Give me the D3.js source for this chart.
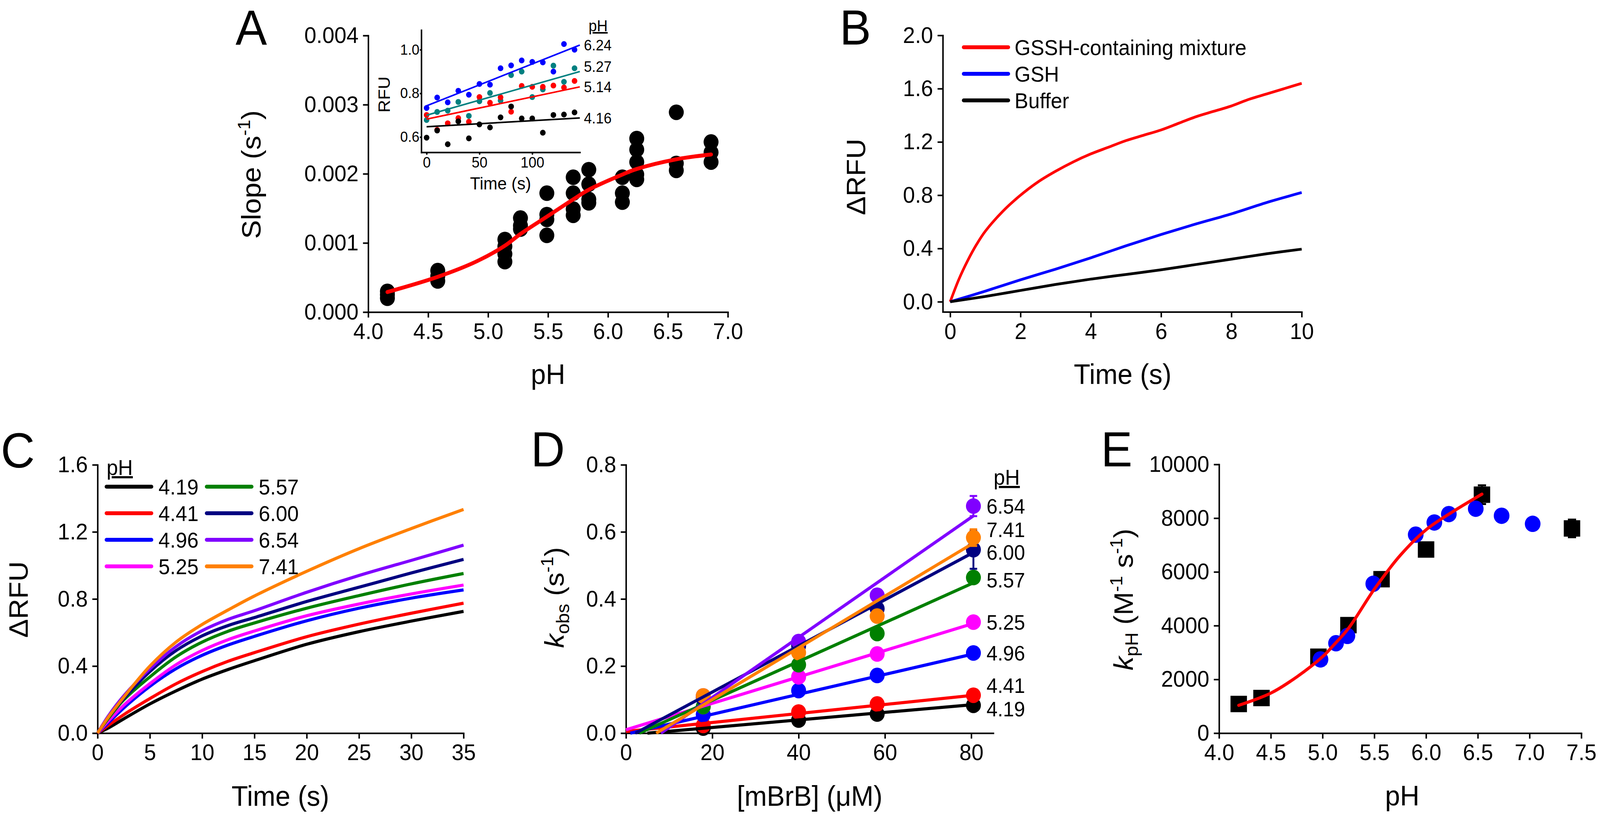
<!DOCTYPE html>
<html>
<head>
<meta charset="utf-8">
<script src="https://cdn.jsdelivr.net/npm/d3@7/dist/d3.min.js"></script>
<style>
  html, body { margin: 0; padding: 0; width: 100%; height: 100%; overflow: hidden; background: #fff; }
  #canvas { width: 100vw; height: 100vh; }
  svg { display: block; }
</style>
</head>
<body>
<div id="canvas"></div>
<script>
/* global d3 */

// ---- panel A: slope vs pH
var slopePH = [4.16, 4.58, 5.14, 5.27, 5.49, 5.71, 5.84, 6.12, 6.24, 6.57, 6.86]
var slopeVals = [
  [0.00030, 0.00025, 0.00020],
  [0.00060, 0.00052, 0.00045],
  [0.00105, 0.00095, 0.00084, 0.00073],
  [0.00136, 0.00125, 0.00120],
  [0.00172, 0.00141, 0.00134, 0.00111],
  [0.00195, 0.00172, 0.00149, 0.00140],
  [0.00206, 0.00185, 0.00163, 0.00158],
  [0.00195, 0.00172, 0.00159],
  [0.00251, 0.00235, 0.00217, 0.00199, 0.00192],
  [0.00289, 0.00215, 0.00205],
  [0.00246, 0.00231, 0.00217]
]
var slopeFitPH = [4.16, 4.58, 4.9, 5.14, 5.27, 5.49, 5.71, 5.84, 6.12, 6.24, 6.57, 6.86]
var slopeFit = [0.00029, 0.00051, 0.00073, 0.00096, 0.00113, 0.00138, 0.00163, 0.00177, 0.00199, 0.00207, 0.00221, 0.00228]
var slopeXTicks = [4.0, 4.5, 5.0, 5.5, 6.0, 6.5, 7.0]
var slopeYTicks = [0, 0.001, 0.002, 0.003, 0.004]

// ---- panel A inset: RFU vs time
var insetTime = [0, 10, 20, 30, 40, 50, 60, 70, 80, 90, 100, 110, 120, 130, 140]
var insetPH = ['6.24', '5.27', '5.14', '4.16']
var insetColors = ['#0000ff', '#008080', '#ff0000', '#000000']
var insetRFU = [
  [0.733, 0.781, 0.759, 0.812, 0.794, 0.843, 0.840, 0.915, 0.928, 0.951, 0.944, 0.942, 0.900, 1.026, 1.000],
  [0.678, 0.715, 0.721, 0.761, 0.697, 0.764, 0.802, 0.767, 0.884, 0.900, 0.783, 0.818, 0.927, 0.853, 0.915],
  [0.701, 0.633, 0.663, 0.687, 0.670, 0.783, 0.757, 0.782, 0.716, 0.834, 0.830, 0.830, 0.836, 0.827, 0.857],
  [0.597, 0.630, 0.567, 0.672, 0.594, 0.658, 0.644, 0.690, 0.740, 0.685, 0.685, 0.620, 0.701, 0.703, 0.713]
]
var insetIntercept = [0.743, 0.700, 0.682, 0.647]
var insetSlope = [0.00192, 0.00138, 0.00102, 0.00028]
var insetFitEnd = 145
var insetXTicks = [0, 50, 100]
var insetYTicks = [0.6, 0.8, 1.0]

// ---- panel B: traces
var traceNames = ['GSSH-containing mixture', 'GSH', 'Buffer']
var traceColors = ['#ff0000', '#0000ff', '#000000']
var traceTime = [
  [0, 0.25, 0.5, 0.75, 1, 1.5, 2, 2.5, 3, 3.5, 4, 4.5, 5, 5.5, 6, 6.5, 7, 7.5, 8, 8.5, 9, 9.5, 10],
  [0, 1, 2, 3, 4, 5, 6, 7, 8, 9, 10],
  [0, 1, 2, 3, 4, 5, 6, 7, 8, 9, 10]
]
var traceRFU = [
  [0, 0.17, 0.31, 0.43, 0.53, 0.68, 0.80, 0.90, 0.98, 1.05, 1.11, 1.16, 1.21, 1.25, 1.29, 1.34, 1.39, 1.43, 1.47, 1.52, 1.56, 1.60, 1.64],
  [0, 0.08, 0.165, 0.245, 0.33, 0.42, 0.505, 0.585, 0.66, 0.745, 0.82],
  [0, 0.04, 0.085, 0.13, 0.17, 0.205, 0.24, 0.28, 0.32, 0.36, 0.395]
]
var traceXTicks = [0, 2, 4, 6, 8, 10]
var traceYTicks = [0, 0.4, 0.8, 1.2, 1.6, 2.0]

// ---- panel C: pH traces
var phLabels = ['4.19', '4.41', '4.96', '5.25', '5.57', '6.00', '6.54', '7.41']
var phColors = ['#000000', '#ff0000', '#0000ff', '#ff00ff', '#008000', '#000080', '#8000ff', '#ff8000']
var cTime = [0, 1, 2.5, 5, 7.5, 10, 12.5, 15, 20, 25, 30, 35]
var cRFU = [
  [0, 0.030, 0.085, 0.174, 0.252, 0.322, 0.380, 0.432, 0.530, 0.605, 0.668, 0.726],
  [0, 0.045, 0.110, 0.206, 0.294, 0.367, 0.429, 0.480, 0.575, 0.650, 0.715, 0.775],
  [0, 0.060, 0.150, 0.279, 0.384, 0.464, 0.526, 0.577, 0.670, 0.745, 0.805, 0.854],
  [0, 0.070, 0.166, 0.295, 0.408, 0.493, 0.558, 0.609, 0.700, 0.770, 0.830, 0.883],
  [0, 0.085, 0.198, 0.335, 0.455, 0.543, 0.608, 0.657, 0.745, 0.820, 0.890, 0.952],
  [0, 0.093, 0.206, 0.367, 0.492, 0.580, 0.642, 0.689, 0.785, 0.870, 0.955, 1.036],
  [0, 0.100, 0.222, 0.383, 0.516, 0.611, 0.679, 0.730, 0.840, 0.940, 1.030, 1.121],
  [0, 0.093, 0.214, 0.400, 0.543, 0.648, 0.735, 0.818, 0.965, 1.100, 1.220, 1.334]
]
var cXTicks = [0, 5, 10, 15, 20, 25, 30, 35]
var cYTicks = [0, 0.4, 0.8, 1.2, 1.6]

// ---- panel D: kobs vs [mBrB]
var dConc = [17.9, 40, 58.2, 80.5]
var dKobs = [
  [0.015, 0.039, 0.057, 0.083],
  [0.023, 0.063, 0.087, 0.113],
  [0.055, 0.127, 0.172, 0.239],
  [0.079, 0.168, 0.236, 0.331],
  [0.079, 0.204, 0.297, 0.464],
  [0.105, 0.260, 0.371, 0.547],
  [0.111, 0.273, 0.411, 0.677],
  [0.111, 0.240, 0.349, 0.583]
]
var dErr = [
  [0, 0, 0, 0],
  [0, 0, 0, 0],
  [0, 0, 0, 0],
  [0, 0, 0, 0],
  [0, 0, 0, 0],
  [0, 0, 0, 0.057],
  [0, 0, 0, 0.030],
  [0.010, 0, 0.015, 0.025]
]
var dSlope = [0.001126, 0.00134, 0.00297, 0.00394, 0.00579, 0.00688, 0.00895, 0.00771]
var dIntercept = [-0.0056, 0.005, -0.003, 0.01, -0.0179, -0.0151, -0.0725, -0.054]
var dFitEnd = 80.5
var dXTicks = [0, 20, 40, 60, 80]
var dYTicks = [0, 0.2, 0.4, 0.6, 0.8]

// ---- panel E: kpH vs pH
var eSquarePH = [4.19, 4.41, 4.96, 5.25, 5.57, 6.00, 6.54, 7.41]
var eSquareK = [1085, 1307, 2844, 4020, 5729, 6834, 8874, 7618]
var eSquareErr = [120, 100, 150, 200, 150, 180, 350, 330]
var eCirclePH = [4.98, 5.13, 5.24, 5.49, 5.90, 6.08, 6.22, 6.48, 6.73, 7.03]
var eCircleK = [2744, 3347, 3618, 5558, 7387, 7839, 8151, 8352, 8090, 7789]
var eFitPH = [4.19, 4.5, 4.75, 5.0, 5.1, 5.25, 5.5, 5.75, 6.0, 6.25, 6.54]
var eFitK = [1035, 1490, 2090, 2844, 3246, 3899, 5357, 6613, 7568, 8221, 8894]
var eXTicks = [4.0, 4.5, 5.0, 5.5, 6.0, 6.5, 7.0, 7.5]
var eYTicks = [0, 2000, 4000, 6000, 8000, 10000]

var FONT = "'Liberation Sans', Arial, Helvetica, sans-serif"
var TICK_FS = 58
var TITLE_FS = 72
var W = 4280, H = 2084

// scale the whole drawing to whatever the viewport really is
var svg = d3.select('#canvas')
  .append('svg')
  .attr('viewBox', '0 0 ' + W + ' ' + H)
  .attr('preserveAspectRatio', 'none')
  .attr('width', '100%')
  .attr('height', '100%')
  .style('font-family', FONT)

svg.append('rect').attr('width', W).attr('height', H).attr('fill', '#fff')

function styleAxis (g, fs, sw) {
  g.attr('font-family', FONT).attr('font-size', fs)
  g.select('.domain').attr('stroke-width', sw).attr('stroke-linecap', 'square')
  g.selectAll('.tick line').attr('stroke-width', sw)
  g.selectAll('.tick text').attr('fill', '#000')
}

function axes (x, y, xTicks, yTicks, xFmt, yFmt) {
  var g = svg.append('g')
  g.append('g')
    .attr('transform', 'translate(0,' + y.range()[0] + ')')
    .call(d3.axisBottom(x).tickValues(xTicks).tickFormat(d3.format(xFmt))
      .tickSize(14).tickSizeOuter(0).tickPadding(14))
    .call(a => styleAxis(a, TICK_FS, 4))
  g.append('g')
    .attr('transform', 'translate(' + x.range()[0] + ',0)')
    .call(d3.axisLeft(y).tickValues(yTicks).tickFormat(d3.format(yFmt))
      .tickSize(14).tickSizeOuter(0).tickPadding(12))
    .call(a => styleAxis(a, TICK_FS, 4))
}

function letter (txt, x, y) {
  svg.append('text').attr('x', x).attr('y', y)
    .attr('font-size', 126).text(txt)
}

function title (x, y, rot) {
  return svg.append('text')
    .attr('transform', 'translate(' + x + ',' + y + ')' + (rot ? ' rotate(-90)' : ''))
    .attr('text-anchor', 'middle')
    .attr('font-size', TITLE_FS)
}

var smooth = d3.curveCatmullRom.alpha(0.5)

// ================= A
var xA = d3.scaleLinear().domain([4, 7]).range([985, 1947])
var yA = d3.scaleLinear().domain([0, 0.004]).range([799, 91])
axes(xA, yA, slopeXTicks, slopeYTicks, '.1f', '.3f')
letter('A', 630, 114)

var slopePts = slopePH.flatMap((p, i) => slopeVals[i].map(v => [p, v]))
svg.append('g')
  .selectAll('circle')
  .data(slopePts)
  .enter()
  .append('circle')
  .attr('cx', d => xA(d[0]))
  .attr('cy', d => yA(d[1]))
  .attr('r', 20)
  .attr('fill', '#000')

svg.append('path')
  .datum(slopeFitPH.map((p, i) => [p, slopeFit[i]]))
  .attr('d', d3.line().x(d => xA(d[0])).y(d => yA(d[1])).curve(smooth))
  .attr('fill', 'none')
  .attr('stroke', '#ff0000')
  .attr('stroke-width', 10)
  .attr('stroke-linecap', 'round')

title(1466, 983).text('pH')
var tA = title(697, 447, true)
tA.append('tspan').text('Slope (s')
tA.append('tspan').attr('font-size', 46).attr('dy', -28).text('-1')
tA.append('tspan').attr('dy', 28).text(')')

// inset
var xI = d3.scaleLinear().domain([-5, 145]).range([1127, 1551])
var yI = d3.scaleLinear().domain([0.53, 1.09]).range([390, 77])
svg.append('g')
  .attr('transform', 'translate(0,390)')
  .call(d3.axisBottom(xI).tickValues(insetXTicks).tickSize(6).tickSizeOuter(0).tickPadding(6))
  .call(a => styleAxis(a, 38, 4))
svg.append('g')
  .attr('transform', 'translate(1127,0)')
  .call(d3.axisLeft(yI).tickValues(insetYTicks).tickFormat(d3.format('.1f')).tickSize(4).tickSizeOuter(0).tickPadding(1))
  .call(a => styleAxis(a, 37, 4))

insetRFU.forEach((vals, s) => {
  svg.append('g')
    .selectAll('circle')
    .data(vals)
    .enter()
    .append('circle')
    .attr('cx', (d, i) => xI(insetTime[i]))
    .attr('cy', d => yI(d))
    .attr('r', 7.5)
    .attr('fill', insetColors[s])
})
insetRFU.forEach((vals, s) => {
  var b = insetIntercept[s], m = insetSlope[s]
  svg.append('line')
    .attr('x1', xI(0)).attr('y1', yI(b))
    .attr('x2', xI(insetFitEnd)).attr('y2', yI(b + m * insetFitEnd))
    .attr('stroke', insetColors[s])
    .attr('stroke-width', 4)
})
var insetNudge = { '5.27': -13 }
insetPH.forEach((p, s) => {
  svg.append('text')
    .attr('x', 1562)
    .attr('y', yI(insetIntercept[s] + insetSlope[s] * insetFitEnd) + (insetNudge[p] || 0))
    .attr('dy', '0.36em')
    .attr('font-size', 38)
    .text(p)
})
svg.append('text').attr('x', 1600).attr('y', 80).attr('text-anchor', 'middle')
  .attr('font-size', 40).attr('text-decoration', 'underline').text('pH')
svg.append('text').attr('x', 1339).attr('y', 485).attr('text-anchor', 'middle')
  .attr('font-size', 45).text('Time (s)')
svg.append('text').attr('transform', 'translate(1043,242) rotate(-90)')
  .attr('text-anchor', 'middle').attr('font-size', 45).text('RFU')

// ================= B
var xB = d3.scaleLinear().domain([-0.21, 10]).range([2522, 3482])
var yB = d3.scaleLinear().domain([-0.076, 2.0]).range([798.5, 90.6])
axes(xB, yB, traceXTicks, traceYTicks, 'd', '.1f')
letter('B', 2246, 114)

traceRFU.forEach((vals, s) => {
  svg.append('path')
    .datum(vals.map((v, i) => [traceTime[s][i], v]))
    .attr('d', d3.line().x(d => xB(d[0])).y(d => yB(d[1])).curve(smooth))
    .attr('fill', 'none')
    .attr('stroke', traceColors[s])
    .attr('stroke-width', 7)
})
traceNames.forEach((n, i) => {
  var yy = 121 + i * 68
  svg.append('line').attr('x1', 2578).attr('x2', 2697).attr('y1', yy).attr('y2', yy)
    .attr('stroke', traceColors[i]).attr('stroke-width', 10).attr('stroke-linecap', 'round')
  svg.append('text').attr('x', 2714).attr('y', yy).attr('dy', '0.36em')
    .attr('font-size', 55).text(n)
})
title(3003, 983).text('Time (s)')
title(2315, 453, true).text('\u0394RFU')

// ================= C
var xC = d3.scaleLinear().domain([0, 35]).range([261, 1240])
var yC = d3.scaleLinear().domain([0, 1.6]).range([1877, 1190])
axes(xC, yC, cXTicks, cYTicks, 'd', '.1f')
letter('C', 2, 1197)

cRFU.forEach((vals, s) => {
  svg.append('path')
    .datum(vals.map((v, i) => [cTime[i], v]))
    .attr('d', d3.line().x(d => xC(d[0])).y(d => yC(d[1])).curve(smooth))
    .attr('fill', 'none')
    .attr('stroke', phColors[s])
    .attr('stroke-width', 8)
})
svg.append('text').attr('x', 285).attr('y', 1216).attr('font-size', 55)
  .attr('text-decoration', 'underline').text('pH')
phLabels.forEach((p, i) => {
  var col = Math.floor(i / 4), row = i % 4
  var yy = 1246 + row * 68
  var x0 = col ? 553 : 285
  svg.append('line').attr('x1', x0).attr('x2', x0 + 120).attr('y1', yy).attr('y2', yy)
    .attr('stroke', phColors[i]).attr('stroke-width', 10).attr('stroke-linecap', 'round')
  svg.append('text').attr('x', x0 + 139).attr('y', yy).attr('dy', '0.36em')
    .attr('font-size', 55).text(p)
})
title(750, 2063).text('Time (s)')
title(74, 1535, true).text('\u0394RFU')

// ================= D
var xD = d3.scaleLinear().domain([0, 85.1]).range([1674.5, 2657])
var yD = d3.scaleLinear().domain([0, 0.8]).range([1877, 1190])
axes(xD, yD, dXTicks, dYTicks, 'd', '.1f')
letter('D', 1420, 1194)

dKobs.forEach((vals, s) => {
  var g = svg.append('g')
  var pts = vals.map((v, i) => [dConc[i], v, dErr[s][i]])
  g.selectAll('circle')
    .data(pts)
    .enter()
    .append('circle')
    .attr('cx', d => xD(d[0]))
    .attr('cy', d => yD(d[1]))
    .attr('r', 20)
    .attr('fill', phColors[s])
  var eb = pts.filter(d => d[2] > 0)
  g.selectAll('.eb')
    .data(eb)
    .enter()
    .append('path')
    .attr('d', d => {
      var cx = xD(d[0]), t = yD(d[1] + d[2]), b = yD(d[1] - d[2])
      return 'M' + cx + ',' + t + 'V' + b + 'M' + (cx - 10) + ',' + t + 'H' + (cx + 10) +
        'M' + (cx - 10) + ',' + b + 'H' + (cx + 10)
    })
    .attr('stroke', phColors[s])
    .attr('stroke-width', 5)
    .attr('fill', 'none')
})
dSlope.forEach((m, s) => {
  var b = dIntercept[s]
  var x0 = Math.max(0, -b / m)
  svg.append('line')
    .attr('x1', xD(x0)).attr('y1', yD(b + m * x0))
    .attr('x2', xD(dFitEnd)).attr('y2', yD(b + m * dFitEnd))
    .attr('stroke', phColors[s])
    .attr('stroke-width', 8)
})
var dNudge = { '7.41': -20, '6.00': 7, '5.57': 6, '4.41': -25, '4.19': 9 }
phLabels.forEach((p, s) => {
  svg.append('text')
    .attr('x', 2639)
    .attr('y', yD(dKobs[s][3]) + (dNudge[p] || 0))
    .attr('dy', '0.36em')
    .attr('font-size', 53)
    .text(p)
})
svg.append('text').attr('x', 2693).attr('y', 1241).attr('text-anchor', 'middle')
  .attr('font-size', 55).attr('text-decoration', 'underline').text('pH')
title(2166, 2063).text('[mBrB] (\u03BCM)')
var tD = title(1508, 1530, true)
tD.append('tspan').attr('font-style', 'italic').text('k')
tD.append('tspan').attr('font-size', 48).attr('dy', 14).text('obs')
tD.append('tspan').attr('dy', -14).text(' (s')
tD.append('tspan').attr('font-size', 46).attr('dy', -28).text('-1')
tD.append('tspan').attr('dy', 28).text(')')

// ================= E
var xE = d3.scaleLinear().domain([4, 7.5]).range([3261, 4230])
var yE = d3.scaleLinear().domain([0, 10000]).range([1877, 1189])
axes(xE, yE, eXTicks, eYTicks, '.1f', 'd')
letter('E', 2945, 1194)

var sq = eSquarePH.map((p, i) => [p, eSquareK[i], eSquareErr[i]])
svg.append('g')
  .selectAll('path')
  .data(sq)
  .enter()
  .append('path')
  .attr('d', d => {
    var cx = xE(d[0]), t = yE(d[1] + d[2]), b = yE(d[1] - d[2])
    return 'M' + cx + ',' + t + 'V' + b + 'M' + (cx - 11) + ',' + t + 'H' + (cx + 11) +
      'M' + (cx - 11) + ',' + b + 'H' + (cx + 11)
  })
  .attr('stroke', '#000')
  .attr('stroke-width', 5)
  .attr('fill', 'none')
svg.append('g')
  .selectAll('rect')
  .data(sq)
  .enter()
  .append('rect')
  .attr('x', d => xE(d[0]) - 22)
  .attr('y', d => yE(d[1]) - 21)
  .attr('width', 44)
  .attr('height', 42)
  .attr('fill', '#000')
svg.append('g')
  .selectAll('circle')
  .data(eCirclePH.map((p, i) => [p, eCircleK[i]]))
  .enter()
  .append('circle')
  .attr('cx', d => xE(d[0]))
  .attr('cy', d => yE(d[1]))
  .attr('r', 21)
  .attr('fill', '#0000ff')
svg.append('path')
  .datum(eFitPH.map((p, i) => [p, eFitK[i]]))
  .attr('d', d3.line().x(d => xE(d[0])).y(d => yE(d[1])).curve(smooth))
  .attr('fill', 'none')
  .attr('stroke', '#ff0000')
  .attr('stroke-width', 8)
  .attr('stroke-linecap', 'round')

title(3751, 2062).text('pH')
var tE = title(3030, 1535, true)
tE.append('tspan').attr('font-style', 'italic').text('k')
tE.append('tspan').attr('font-size', 48).attr('dy', 14).text('pH')
tE.append('tspan').attr('dy', -14).text(' (M')
tE.append('tspan').attr('font-size', 46).attr('dy', -28).text('-1')
tE.append('tspan').attr('dy', 28).text(' s')
tE.append('tspan').attr('font-size', 46).attr('dy', -28).text('-1')
tE.append('tspan').attr('dy', 28).text(')')
</script>
</body>
</html>
